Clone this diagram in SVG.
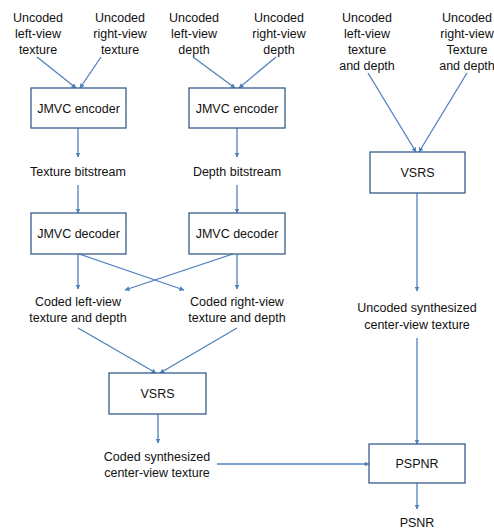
<svg xmlns="http://www.w3.org/2000/svg" width="494" height="530" viewBox="0 0 494 530">
<style>
.box{fill:#fff;stroke:#385d8a;stroke-width:1.3}
.t{font-family:"Liberation Sans",Arial,sans-serif;font-size:12.5px;fill:#111;text-anchor:middle}
.c{stroke:#4f81bd;stroke-width:1.3;fill:none;marker-end:url(#ah)}
</style>
<defs>
<marker id="ah" viewBox="0 0 10 10" refX="9" refY="5" markerWidth="5" markerHeight="5" orient="auto" markerUnits="userSpaceOnUse"><path d="M0,0 L10,5 L0,10 z" fill="#4f81bd"/></marker>
</defs>
<rect width="494" height="530" fill="#fff"/>
<g id="connectors">
<line class="c" x1="37" y1="57" x2="76" y2="88"/>
<line class="c" x1="101" y1="57" x2="80" y2="88"/>
<line class="c" x1="193" y1="57" x2="235" y2="88"/>
<line class="c" x1="276" y1="57" x2="239" y2="88"/>
<line class="c" x1="78" y1="128" x2="78" y2="157"/>
<line class="c" x1="237" y1="128" x2="237" y2="157"/>
<line class="c" x1="78" y1="185" x2="78" y2="213"/>
<line class="c" x1="237" y1="185" x2="237" y2="213"/>
<line class="c" x1="78" y1="254" x2="78" y2="289"/>
<line class="c" x1="79" y1="254" x2="184" y2="290"/>
<line class="c" x1="237" y1="254" x2="237" y2="289"/>
<line class="c" x1="233" y1="254" x2="125" y2="290"/>
<line class="c" x1="78" y1="328" x2="156" y2="373"/>
<line class="c" x1="237" y1="328" x2="160" y2="373"/>
<line class="c" x1="158" y1="414" x2="158" y2="443"/>
<line class="c" x1="368" y1="73" x2="416" y2="152"/>
<line class="c" x1="467" y1="73" x2="419" y2="152"/>
<line class="c" x1="417" y1="193" x2="417" y2="291"/>
<line class="c" x1="417" y1="338" x2="417" y2="444"/>
<line class="c" x1="217" y1="464" x2="369" y2="464"/>
<line class="c" x1="417" y1="483" x2="417" y2="509"/>
</g>
<g id="in-left-texture"><text class="t" x="38" y="22">Uncoded</text><text class="t" x="38" y="38">left-view</text><text class="t" x="38" y="54">texture</text></g>
<g id="in-right-texture"><text class="t" x="120" y="22">Uncoded</text><text class="t" x="120" y="38">right-view</text><text class="t" x="120" y="54">texture</text></g>
<g id="in-left-depth"><text class="t" x="194" y="22">Uncoded</text><text class="t" x="194" y="38">left-view</text><text class="t" x="194" y="54">depth</text></g>
<g id="in-right-depth"><text class="t" x="279" y="22">Uncoded</text><text class="t" x="279" y="38">right-view</text><text class="t" x="279" y="54">depth</text></g>
<g id="in-left-td"><text class="t" x="367" y="22">Uncoded</text><text class="t" x="367" y="38">left-view</text><text class="t" x="367" y="54">texture</text><text class="t" x="367" y="70">and depth</text></g>
<g id="in-right-td"><text class="t" x="467" y="22">Uncoded</text><text class="t" x="467" y="38">right-view</text><text class="t" x="467" y="54">Texture</text><text class="t" x="467" y="70">and depth</text></g>
<g id="enc1"><rect class="box" x="31" y="88" width="95" height="40"/><text class="t" x="78.5" y="113">JMVC encoder</text></g>
<g id="enc2"><rect class="box" x="189" y="88" width="96" height="40"/><text class="t" x="237" y="113">JMVC encoder</text></g>
<g id="tex-bs"><text class="t" x="78" y="176">Texture bitstream</text></g>
<g id="dep-bs"><text class="t" x="237" y="176">Depth bitstream</text></g>
<g id="dec1"><rect class="box" x="31" y="213" width="95" height="41"/><text class="t" x="78.5" y="238">JMVC decoder</text></g>
<g id="dec2"><rect class="box" x="189" y="213" width="96" height="41"/><text class="t" x="237" y="238">JMVC decoder</text></g>
<g id="coded-left"><text class="t" x="78" y="306">Coded left-view</text><text class="t" x="78" y="322">texture and depth</text></g>
<g id="coded-right"><text class="t" x="237" y="306">Coded right-view</text><text class="t" x="237" y="322">texture and depth</text></g>
<g id="vsrs1"><rect class="box" x="109" y="373" width="97" height="41"/><text class="t" x="157.5" y="398">VSRS</text></g>
<g id="coded-synth"><text class="t" x="157" y="461">Coded synthesized</text><text class="t" x="157" y="477">center-view texture</text></g>
<g id="vsrs2"><rect class="box" x="370" y="152" width="95" height="41"/><text class="t" x="417.5" y="177">VSRS</text></g>
<g id="uncoded-synth"><text class="t" x="417" y="312">Uncoded synthesized</text><text class="t" x="417" y="329">center-view texture</text></g>
<g id="pspnr"><rect class="box" x="369" y="444" width="96" height="39"/><text class="t" x="417" y="468">PSPNR</text></g>
<g id="psnr"><text class="t" x="417" y="527">PSNR</text></g>
</svg>
